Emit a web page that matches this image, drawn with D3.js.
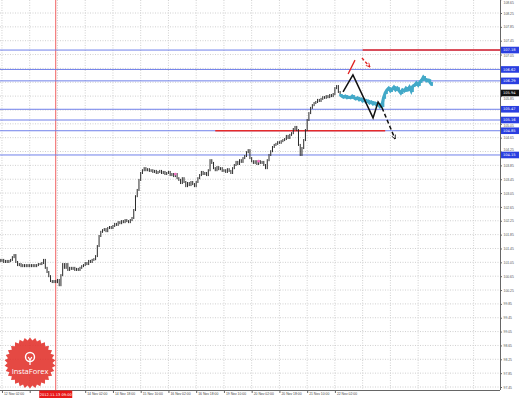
<!DOCTYPE html>
<html>
<head>
<meta charset="utf-8">
<script src="https://d3js.org/d3.v7.min.js"></script>
<style>
body { margin: 0; background: #fff; }
svg { display: block; font-family: "DejaVu Sans", sans-serif; }
</style>
</head>
<body>
<div id="chart"></div>
<script>
// hourly closes, bar 0 = 12 Nov 00:00
const closes = [
  101.12, 101.09, 101.12, 101.06, 101.09, 101.06, 101.09, 101.12, 101.20, 101.26,
  101.06, 100.97, 101.00, 100.94, 100.97, 100.94, 100.97, 100.94, 100.97, 100.94,
  100.97, 100.94, 100.97, 101.00, 101.00, 101.03, 101.12, 100.89, 100.77, 100.65,
  100.51, 100.48, 100.51, 100.48, 100.54, 100.39, 100.68, 101.00, 100.89, 101.00,
  100.83, 100.89, 100.86, 100.89, 100.83, 100.86, 100.83, 100.89, 100.94, 100.97,
  101.03, 101.00, 101.09, 101.06, 101.12, 101.14, 101.23, 101.52, 101.81, 101.93,
  101.98, 102.01, 101.95, 102.04, 102.07, 102.04, 102.10, 102.16, 102.13, 102.21,
  102.18, 102.24, 102.21, 102.27, 102.24, 102.21, 102.27, 102.33, 102.56, 102.96,
  103.14, 103.43, 103.63, 103.71, 103.77, 103.71, 103.74, 103.69, 103.71, 103.66,
  103.69, 103.63, 103.66, 103.69, 103.63, 103.66, 103.60, 103.63, 103.66, 103.57,
  103.60, 103.54, 103.60, 103.48, 103.43, 103.34, 103.48, 103.37, 103.25, 103.34,
  103.28, 103.37, 103.31, 103.25, 103.37, 103.48, 103.57, 103.66, 103.60, 103.63,
  103.57, 103.71, 104.00, 103.92, 103.77, 103.71, 103.80, 103.74, 103.77, 103.69,
  103.71, 103.66, 103.74, 103.69, 103.63, 103.77, 103.86, 103.95, 103.89, 104.00,
  103.95, 104.06, 104.12, 104.23, 104.29, 104.06, 103.97, 103.92, 103.97, 103.89,
  103.97, 103.92, 103.95, 103.86, 103.77, 104.00, 104.15, 104.26, 104.38, 104.44,
  104.47, 104.52, 104.50, 104.55, 104.58, 104.61, 104.70, 104.64, 104.73, 104.78,
  104.90, 104.96, 104.87, 104.44, 104.15, 104.35, 104.58, 104.87, 105.16, 105.36,
  105.51, 105.59, 105.65, 105.68, 105.74, 105.71, 105.77, 105.82, 105.80, 105.85,
  105.82, 105.88, 105.85, 105.91, 106.08, 106.14, 105.97, 105.94
];

// cyan overlay, starts at bar 197
const overlayStart = 197;
const overlay = [
  105.88, 105.85, 105.82, 105.85, 105.80, 105.82, 105.80, 105.85, 105.80, 105.77,
  105.80, 105.74, 105.77, 105.71, 105.74, 105.68, 105.71, 105.65, 105.68, 105.62,
  105.65, 105.59, 105.62, 105.54, 105.56, 105.80, 105.94, 106.03, 106.08, 106.00,
  106.05, 106.11, 106.03, 106.08, 106.00, 105.94, 106.03, 106.00, 106.08, 106.03,
  106.11, 106.00, 106.14, 106.17, 106.23, 106.17, 106.26, 106.31, 106.40, 106.34,
  106.29, 106.31, 106.23, 106.17
];

const timeTickBars = [2, 18, 34, 50, 66, 82, 98, 114, 130, 146, 162, 178, 194];
const timeLabels = ["12 Nov 02:00", "12 Nov 18:00", "13 Nov 10:00", "14 Nov 02:00",
  "14 Nov 18:00", "15 Nov 10:00", "16 Nov 02:00", "16 Nov 18:00", "19 Nov 10:00",
  "20 Nov 02:00", "20 Nov 18:00", "21 Nov 10:00", "22 Nov 02:00"];

const priceTicks = [108.65, 108.25, 107.85, 107.45, 107.05, 106.65, 106.25, 105.85,
  105.45, 105.05, 104.65, 104.25, 103.85, 103.45, 103.05, 102.65, 102.25, 101.85,
  101.45, 101.05, 100.65, 100.25, 99.85, 99.45, 99.05, 98.65, 98.25, 97.85, 97.45];

const blueLevels = [107.18, 106.62, 106.29, 105.47, 105.16, 104.85, 104.15];
const redLevels = [107.18, 104.85];
const redFrom = [210, 125];
const redTo = [300, 223];

const lastPrice = 105.94;
const markerBar = 33;
const markerLabel = "2012.11.13 09:00";

// pink trade marks
const markBars = [102, 150];
const markPrices = [103.60, 103.97];

// drawn wave forecast
const waveBars = [198.7, 204.4, 216, 218.9, 221.2];
const wavePrices = [105.97, 106.46, 105.22, 105.68, 105.51];
const dashBars = [221.2, 228.7];
const dashPrices = [105.51, 104.61];
const redStrokeBars = [201.6, 205.6];
const redStrokePrices = [106.49, 106.89];
const redArrowBars = [209.6, 214.2];
const redArrowPrices = [106.95, 106.69];

const W = 519, H = 398, plotW = 500, plotH = 390;

const svg = d3.select("#chart").append("svg")
  .attr("width", W).attr("height", H);
svg.append("rect").attr("width", W).attr("height", H).attr("fill", "#fff");

const x = d3.scaleLinear().domain([0, 288]).range([-1.5, 497.9]);
const y = d3.scaleLinear().domain([97.45, 108.25]).range([387, 13]);

svg.append("clipPath").attr("id", "plot")
  .append("rect").attr("width", plotW).attr("height", plotH);

const defs = svg.append("defs");
function arrowMarker(id, color) {
  defs.append("marker").attr("id", id)
    .attr("viewBox", "0 0 10 10").attr("refX", 9).attr("refY", 5)
    .attr("markerWidth", 5).attr("markerHeight", 5)
    .attr("markerUnits", "userSpaceOnUse")
    .attr("orient", "auto")
    .append("path").attr("d", "M1,1 L9,5 L1,9")
    .attr("fill", "none").attr("stroke", color).attr("stroke-width", 1.6);
}
arrowMarker("arrBlack", "#111");
arrowMarker("arrRed", "#e02020");

const g = svg.append("g").attr("clip-path", "url(#plot)");

// grid
g.selectAll(".hgrid").data(priceTicks).enter().append("line")
  .attr("x1", 0).attr("x2", plotW)
  .attr("y1", d => y(d)).attr("y2", d => y(d))
  .attr("stroke", "#d0d0d0").attr("stroke-dasharray", "1,1.5");
g.selectAll(".vgrid").data(d3.range(2, 290, 16)).enter().append("line")
  .attr("x1", d => x(d)).attr("x2", d => x(d))
  .attr("y1", 0).attr("y2", plotH)
  .attr("stroke", "#d0d0d0").attr("stroke-dasharray", "1,1.5");

// vertical red marker line
g.append("line")
  .attr("x1", x(markerBar)).attr("x2", x(markerBar))
  .attr("y1", 0).attr("y2", plotH)
  .attr("stroke", "#f06060").attr("stroke-width", 1);

// level lines
g.selectAll(".blue").data(blueLevels).enter().append("line")
  .attr("x1", 0).attr("x2", plotW)
  .attr("y1", d => y(d)).attr("y2", d => y(d))
  .attr("stroke", "#7080ea").attr("stroke-width", 1);
g.selectAll(".red").data(redLevels).enter().append("line")
  .attr("x1", (d, i) => x(redFrom[i])).attr("x2", (d, i) => Math.min(plotW, x(redTo[i])))
  .attr("y1", d => y(d)).attr("y2", d => y(d))
  .attr("stroke", "#e52a2a").attr("stroke-width", 1.6);

// price bars
function drawBars(values, start, color, width) {
  g.append("g").selectAll("line").data(values).enter().append("line")
    .attr("x1", (d, i) => x(start + i)).attr("x2", (d, i) => x(start + i))
    .attr("y1", (d, i) => y(i > 0 ? values[i - 1] : d) + (i > 0 && values[i - 1] < d ? 1 : -1))
    .attr("y2", (d, i) => y(d) + (i > 0 && values[i - 1] < d ? -1 : 1))
    .attr("stroke", color).attr("stroke-width", width);
}
drawBars(closes, 0, "#2a2a2a", 1);

const line = d3.line().x((d, i) => x(overlayStart + i)).y(d => y(d));
g.append("path").datum(overlay).attr("d", line)
  .attr("fill", "none").attr("stroke", "#43a9c8").attr("stroke-width", 3);
drawBars(overlay, overlayStart, "#43a9c8", 1.8);

// pink marks
g.selectAll(".mark").data(markPrices).enter().append("circle")
  .attr("cx", (d, i) => x(markBars[i])).attr("cy", d => y(d)).attr("r", 1.4)
  .attr("fill", "#f070c0");

// wave annotations
const pts = d3.line().x(d => x(d[0])).y(d => y(d[1]));
g.append("path").datum(d3.zip(waveBars, wavePrices)).attr("d", pts)
  .attr("fill", "none").attr("stroke", "#111").attr("stroke-width", 1.5);
g.append("path").datum(d3.zip(dashBars, dashPrices)).attr("d", pts)
  .attr("fill", "none").attr("stroke", "#111").attr("stroke-width", 1.5)
  .attr("stroke-dasharray", "4,2.5").attr("marker-end", "url(#arrBlack)");
g.append("path").datum(d3.zip(redStrokeBars, redStrokePrices)).attr("d", pts)
  .attr("fill", "none").attr("stroke", "#e02020").attr("stroke-width", 1.3);
g.append("path").datum(d3.zip(redArrowBars, redArrowPrices)).attr("d", pts)
  .attr("fill", "none").attr("stroke", "#e02020").attr("stroke-width", 1.3)
  .attr("stroke-dasharray", "3,2").attr("marker-end", "url(#arrRed)");

// right axis
const boxLevels = blueLevels.concat([lastPrice]);
const yAxis = svg.append("g")
  .attr("transform", "translate(" + plotW + ",0)")
  .call(d3.axisRight(y).tickValues(priceTicks).tickFormat(d3.format(".2f"))
    .tickSize(2).tickPadding(1.5).tickSizeOuter(0));
yAxis.select(".domain").attr("stroke", "#666").attr("d", "M0.5,0V" + plotH);
yAxis.selectAll("line").attr("stroke", "#666");
yAxis.selectAll("text").attr("font-size", 3.4).attr("fill", "#555");
// tick labels hidden under a level box are dropped, those just beside one are nudged clear
yAxis.selectAll(".tick").each(function(t) {
  let near = boxLevels.map(v => y(t) - y(v)).filter(dv => Math.abs(dv) < 5.4);
  if (!near.length) return;
  let dv = near[0];
  if (Math.abs(dv) < 2) d3.select(this).select("text").remove();
  else d3.select(this).select("text").attr("y", (dv > 0 ? 1 : -1) * 5.4 - dv);
});
yAxis.selectAll(".tick").filter(t => y(t) < 2).select("text").attr("y", 2 - y(108.65));

// bottom axis
const xAxis = svg.append("g")
  .attr("transform", "translate(0," + plotH + ")")
  .call(d3.axisBottom(x).tickValues(timeTickBars)
    .tickFormat((d, i) => timeLabels[i]).tickSize(3).tickSizeOuter(0));
xAxis.select(".domain").attr("stroke", "#666").attr("d", "M0,0.5H" + plotW);
xAxis.selectAll("line").attr("stroke", "#666");
xAxis.selectAll("text").attr("font-size", 3.4).attr("fill", "#444")
  .attr("text-anchor", "start").attr("x", 1.5).attr("y", 2.2).attr("dy", "0.71em");
// the date box covers these two labels
xAxis.selectAll(".tick").filter(d => d === 18 || d === 34).select("text").remove();

// level price boxes
function priceBox(v, fill) {
  const b = svg.append("g").attr("transform", "translate(" + (plotW + 1) + "," + y(v) + ")");
  b.append("rect").attr("x", 0).attr("y", -3.3).attr("width", 18).attr("height", 6.6).attr("fill", fill);
  b.append("text").attr("x", 2).attr("y", 1.2).attr("font-size", 3.6)
    .attr("fill", "#fff").text(v.toFixed(2));
}
blueLevels.forEach(v => priceBox(v, "#2a3fe0"));
priceBox(lastPrice, "#111");

// date box under marker line
const db = svg.append("g").attr("transform", "translate(" + x(markerBar) + "," + (plotH + 0.5) + ")");
db.append("rect").attr("x", -16.5).attr("y", 0).attr("width", 33).attr("height", 7.5).attr("fill", "#e81818");
db.append("text").attr("y", 5).attr("text-anchor", "middle").attr("font-size", 3.6)
  .attr("fill", "#fff").text(markerLabel);

// logo badge
const logo = svg.append("g").attr("transform", "translate(30,363)").attr("opacity", 0.88);
const teeth = 30;
const star = d3.range(teeth * 2).map(k => {
  const a = Math.PI * k / teeth, r = k % 2 ? 22.5 : 25.5;
  return [Math.sin(a) * r, -Math.cos(a) * r];
});
logo.append("path").attr("d", "M" + star.join("L") + "Z").attr("fill", "#e2302a");
logo.append("circle").attr("cy", -6).attr("r", 4.5).attr("fill", "none")
  .attr("stroke", "#fff").attr("stroke-width", 1.4);
logo.append("path").attr("d", "M-1.8,-6 L0,-3 L1.8,-6 M0,-3 V2")
  .attr("fill", "none").attr("stroke", "#fff").attr("stroke-width", 1.2);
logo.append("text").attr("y", 11).attr("text-anchor", "middle")
  .attr("font-family", "'Open Sans', sans-serif").attr("font-size", 7.5)
  .attr("fill", "#fff").text("InstaForex");
</script>
</body>
</html>
